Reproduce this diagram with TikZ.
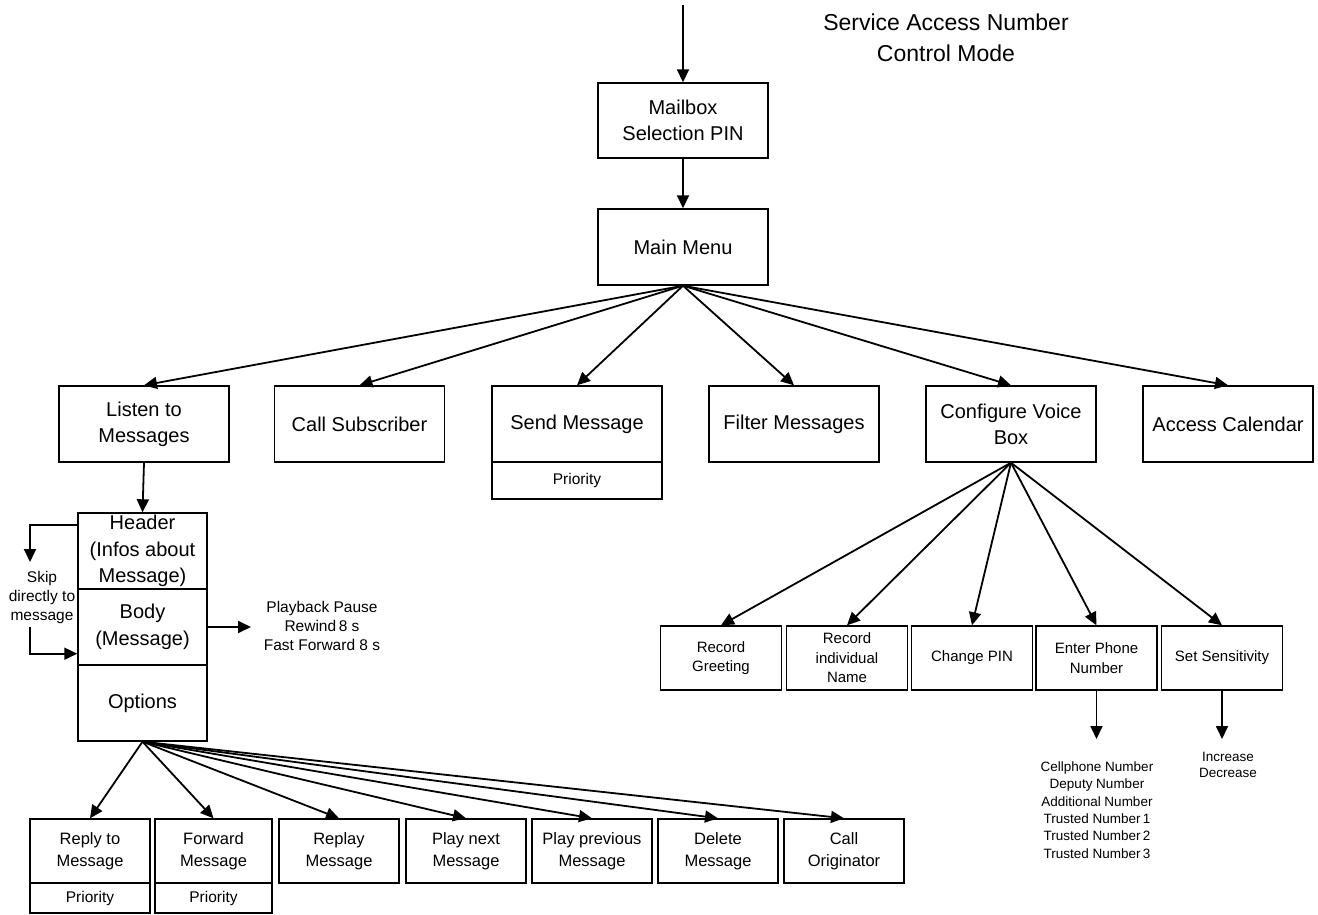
\documentclass[tikz,border=0pt]{standalone}
\usepackage{fontspec}
\setmainfont{Liberation Sans}
\usetikzlibrary{arrows.meta,calc}
\begin{document}
\begin{tikzpicture}[x=1pt,y=-1pt,
  box/.style={draw,line width=1.4pt,inner sep=0pt,align=center,anchor=center},
  big/.style={box,minimum width=170,minimum height=76,font=\fontsize{20}{26}\selectfont},
  stackbox/.style={box,minimum width=129,minimum height=76,font=\fontsize{20}{26.5}\selectfont},
  small/.style={box,minimum width=120,minimum height=64,font=\fontsize{16.5}{22}\selectfont},
  cfg/.style={box,minimum width=121,minimum height=64,font=\fontsize{15}{19.5}\selectfont},
  prio/.style={box,font=\fontsize{15.5}{19}\selectfont},
  label/.style={inner sep=0pt,align=center},
  arr/.style={line width=1.8pt,-{Triangle[length=13pt,width=12pt]}}]
\useasboundingbox (0,0) rectangle (1318,915);
% title
\node[label,font=\fontsize{23}{31}\selectfont] (title) at (946,37.5) {Service Access Number\\Control Mode};
% top
\coordinate (start) at (683,5);
\node[big,minimum height=75] (mailbox) at (683,120.5) {Mailbox\\Selection PIN};
\node[big] (main) at (683,247) {Main Menu};
\draw[arr] (start) -- (mailbox.north);
\draw[arr] (mailbox.south) -- (main.north);
% second row
\node[big] (listen) at (144,424) {Listen to\\Messages};
\node[big] (call) at (359.5,424) {Call Subscriber};
\node[big] (send) at (577,424) {Send Message};
\node[prio,minimum width=170,minimum height=37] (sendprio) at (577,480.5) {Priority};
\node[big] (filter) at (794,424) {Filter Messages};
\node[big] (config) at (1011,424) {Configure Voice\\Box};
\node[big] (calendar) at (1228,424) {Access Calendar};
\foreach \n in {listen,call,send,filter,config,calendar}
  \draw[arr] (main.south) -- (\n.north);
% stack
\node[stackbox] (header) at (142.5,551) {Header\\(Infos about\\Message)};
\node[stackbox] (body) at (142.5,627) {Body\\(Message)};
\node[stackbox] (options) at (142.5,703) {Options};
\draw[arr] (listen.south) -- (header.north);
% skip
\coordinate (skiptop) at (30,562);
\coordinate (skipbot) at (30,627);
\node[label,font=\fontsize{15.5}{19}\selectfont] (skip) at (42,597) {Skip\\directly to\\message};
\draw[arr] ($(header.north west)+(0,13)$) -| (skiptop);
\draw[arr] (skipbot) |- ($(body.south west)+(0,-12)$);
% playback
\node[label,font=\fontsize{15.5}{19}\selectfont] (play) at (322,626) {Playback Pause\\Rewind\,8 s\\Fast Forward 8 s};
\coordinate (playend) at (251,627);
\draw[arr] (body.east) -- (playend);
% bottom row
\node[small] (reply) at (90,851) {Reply to\\Message};
\node[prio,minimum width=120,minimum height=30] (replyprio) at (90,898) {Priority};
\node[small,minimum width=117] (forward) at (213.5,851) {Forward\\Message};
\node[prio,minimum width=117,minimum height=30] (forwardprio) at (213.5,898) {Priority};
\node[small] (replay) at (339,851) {Replay\\Message};
\node[small] (next) at (466,851) {Play next\\Message};
\node[small] (prev) at (592,851) {Play previous\\Message};
\node[small] (delete) at (718,851) {Delete\\Message};
\node[small] (orig) at (844,851) {Call\\Originator};
\foreach \n in {reply,forward,replay,next,prev,delete,orig}
  \draw[arr] (options.south) -- (\n.north);
% configure children
\node[cfg] (greet) at (721,658) {Record\\Greeting};
\node[cfg] (indiv) at (847,658) {Record\\individual\\Name};
\node[cfg] (pin) at (972,658) {Change PIN};
\node[cfg] (phone) at (1096.5,658) {Enter Phone\\Number};
\node[cfg] (sens) at (1222,658) {Set Sensitivity};
\foreach \n in {greet,indiv,pin,phone,sens}
  \draw[arr] (config.south) -- (\n.north);
% sub lists
\coordinate (phoneend) at (1096.5,739);
\coordinate (sensend) at (1222,739);
\draw[arr] (phone.south) -- (phoneend);
\draw[arr] (sens.south) -- (sensend);
\node[label,font=\fontsize{13.5}{17.3}\selectfont] (phonelist) at (1097,810) {Cellphone Number\\Deputy Number\\Additional Number\\Trusted Number\,1\\Trusted Number\,2\\Trusted Number\,3};
\node[label,font=\fontsize{13.5}{16.5}\selectfont] (senslist) at (1228,765) {Increase\\Decrease};
\end{tikzpicture}
\end{document}
